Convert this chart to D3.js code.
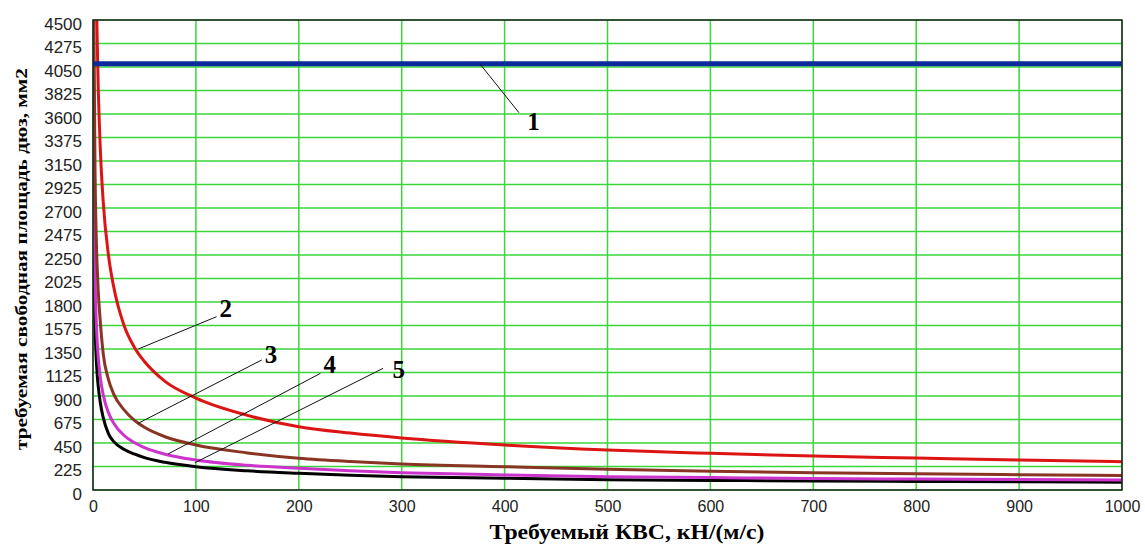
<!DOCTYPE html>
<html>
<head>
<meta charset="utf-8">
<script src="https://cdn.jsdelivr.net/npm/d3@7"></script>
<style>
  html, body { margin: 0; padding: 0; background: #fff; }
  svg { display: block; }
</style>
</head>
<body>
<div id="chart"></div>
<script>
// ---- data ----
const xTicks = [0, 100, 200, 300, 400, 500, 600, 700, 800, 900, 1000];
const yTicks = [0, 225, 450, 675, 900, 1125, 1350, 1575, 1800, 2025, 2250, 2475, 2700, 2925, 3150, 3375, 3600, 3825, 4050, 4275, 4500];

const xTitle = "Требуемый КВС, кН/(м/с)";
const yTitle = "требуемая свободная площадь дюз, мм2";

// series 1 (blue, constant)
const s1X = [0, 1000];
const s1Y = [4080, 4080];

// series 2 (red)
const s2X = [3.7, 5, 7, 10, 15, 20, 30, 40, 50, 70, 100, 150, 200, 250, 300, 400, 500, 600, 700, 800, 900, 1000];
const s2Y = [4500, 3890, 3290, 2750, 2250, 1950, 1580, 1370, 1230, 1040, 880, 715, 606, 545, 498, 431, 383, 351, 325, 306, 287, 271];

// series 3 (brown)
const s3X = [0.9, 1, 2, 3, 4, 5, 7, 10, 15, 20, 30, 40, 50, 70, 100, 150, 200, 250, 300, 400, 500, 600, 700, 800, 900, 1000];
const s3Y = [4500, 4300, 3040, 2480, 2150, 1920, 1625, 1300, 1060, 920, 770, 670, 600, 510, 431, 355, 303, 272, 250, 223, 198, 180, 166, 155, 147, 140];

// series 4 (magenta)
const s4X = [0.4, 1, 2, 3, 4, 5, 7, 10, 15, 20, 30, 40, 50, 70, 100, 150, 200, 250, 300, 400, 500, 600, 700, 800, 900, 1000];
const s4Y = [4500, 2870, 2030, 1660, 1435, 1285, 1085, 908, 741, 642, 524, 454, 406, 343, 287, 236, 208, 184, 166, 144, 128, 119, 110, 105, 100, 95];

// series 5 (black)
const s5X = [0.25, 0.5, 1, 2, 3, 4, 5, 7, 10, 15, 20, 30, 40, 50, 70, 100, 150, 200, 250, 300, 400, 500, 600, 700, 800, 900, 1000];
const s5Y = [4500, 3150, 2230, 1580, 1290, 1115, 1000, 843, 690, 540, 465, 390, 345, 310, 265, 223, 184, 160, 141, 128, 113, 98, 92, 86, 82, 78, 75];

// annotation labels: leader line from (fx,fy) to (tx,ty), text at (lx,ly) in data units
const annLabels = ["1", "2", "3", "4", "5"];
const annFrom = [[376, 4080], [44, 1350], [44, 639], [73, 345], [99, 261]];
const annTo   = [[414, 3612], [120, 1659], [164, 1245], [221, 1117], [282, 1165]];
const annText = [[422, 3447], [123, 1656], [167, 1216], [224, 1120], [291, 1072]];

// ---- drawing ----
const W = 1145, H = 553;
const M = { left: 93, right: 1122, top: 20, bottom: 490 };

const svg = d3.select("#chart").append("svg")
  .attr("width", W).attr("height", H)
  .style("background", "#fff");

const x = d3.scaleLinear().domain([0, 1000]).range([M.left, M.right]);
const y = d3.scaleLinear().domain([0, 4500]).range([M.bottom, M.top]);

svg.append("defs").append("clipPath").attr("id", "plotclip")
  .append("rect")
  .attr("x", M.left).attr("y", M.top)
  .attr("width", M.right - M.left).attr("height", M.bottom - M.top);

// grid
const grid = svg.append("g");
grid.selectAll("line.h").data(yTicks).join("line")
  .attr("x1", M.left).attr("x2", M.right)
  .attr("y1", d => y(d)).attr("y2", d => y(d))
  .attr("stroke", "#3ad63a").attr("stroke-width", 1.5);
grid.selectAll("line.v").data(xTicks).join("line")
  .attr("y1", M.top).attr("y2", M.bottom)
  .attr("x1", d => x(d)).attr("x2", d => x(d))
  .attr("stroke", "#3ad63a").attr("stroke-width", 1.5);

// axes
const yAxis = d3.axisLeft(y).tickValues(yTicks).tickSize(0).tickPadding(11).tickFormat(d3.format("d"));
const gy = svg.append("g").attr("transform", `translate(${M.left},0)`).call(yAxis);
gy.select(".domain").remove();
gy.selectAll("text")
  .attr("dy", "0.53em")
  .style("font-family", "'Liberation Sans', Arial, sans-serif")
  .style("font-size", "17px").attr("fill", "#222");

const xAxis = d3.axisBottom(x).tickValues(xTicks).tickSize(0).tickPadding(11).tickFormat(d3.format("d"));
const gx = svg.append("g").attr("transform", `translate(0,${M.bottom})`).call(xAxis);
gx.select(".domain").remove();
gx.selectAll("text")
  .style("font-family", "'Liberation Sans', Arial, sans-serif")
  .style("font-size", "16px").attr("fill", "#222");

// series
const series = [
  { xs: s1X, ys: s1Y, color: "#0b2a9c", width: 5 },
  { xs: s2X, ys: s2Y, color: "#dd1414", width: 3 },
  { xs: s3X, ys: s3Y, color: "#8a3524", width: 3 },
  { xs: s4X, ys: s4Y, color: "#cc33cc", width: 3 },
  { xs: s5X, ys: s5Y, color: "#000000", width: 3 }
];
const line = d3.line().x(d => x(d[0])).y(d => y(d[1])).curve(d3.curveMonotoneX);
const plot = svg.append("g").attr("clip-path", "url(#plotclip)");
series.slice().reverse().forEach(s => {
  plot.append("path")
    .datum(s.xs.map((v, i) => [v, s.ys[i]]))
    .attr("d", line)
    .attr("fill", "none")
    .attr("stroke", s.color)
    .attr("stroke-width", s.width)
    .attr("stroke-linejoin", "round");
});

// frame
svg.append("rect")
  .attr("x", M.left).attr("y", M.top)
  .attr("width", M.right - M.left).attr("height", M.bottom - M.top)
  .attr("fill", "none").attr("stroke", "#222").attr("stroke-width", 1.5);

// annotations
const ann = svg.append("g");
annLabels.forEach((lab, i) => {
  ann.append("line")
    .attr("x1", x(annFrom[i][0])).attr("y1", y(annFrom[i][1]))
    .attr("x2", x(annTo[i][0])).attr("y2", y(annTo[i][1]))
    .attr("stroke", "#111").attr("stroke-width", 1);
  ann.append("text")
    .attr("x", x(annText[i][0])).attr("y", y(annText[i][1]))
    .text(lab)
    .style("font-family", "'Liberation Serif', 'Times New Roman', serif")
    .style("font-weight", "bold")
    .style("font-size", "25px")
    .attr("fill", "#000");
});

// titles
svg.append("text")
  .attr("x", 627).attr("y", 539)
  .attr("text-anchor", "middle")
  .attr("textLength", 275).attr("lengthAdjust", "spacingAndGlyphs")
  .style("font-family", "'Liberation Serif', 'Times New Roman', serif")
  .style("font-weight", "bold").style("font-size", "20px")
  .attr("fill", "#000")
  .text(xTitle);

svg.append("text")
  .attr("transform", "translate(27,259) rotate(-90)")
  .attr("text-anchor", "middle")
  .attr("textLength", 382).attr("lengthAdjust", "spacingAndGlyphs")
  .style("font-family", "'Liberation Serif', 'Times New Roman', serif")
  .style("font-weight", "bold").style("font-size", "17px")
  .attr("fill", "#000")
  .text(yTitle);
</script>
</body>
</html>
